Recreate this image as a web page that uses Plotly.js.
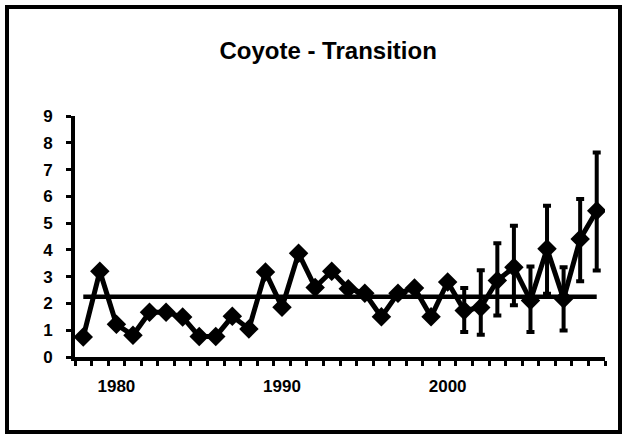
<!DOCTYPE html>
<html>
<head>
<meta charset="utf-8">
<script src="https://cdn.plot.ly/plotly-3.0.1.min.js"></script>
<style>
html,body{margin:0;padding:0;background:#fff;}
#wrap{position:relative;width:625px;height:438px;}
#chart{width:625px;height:438px;}
#frame{position:absolute;left:5px;top:5px;width:617px;height:429px;box-sizing:border-box;border:4px solid #000;pointer-events:none;}
</style>
</head>
<body>
<div id="wrap"><div id="chart"></div><div id="frame"></div></div>
<script>
// Data
var years = [1978,1979,1980,1981,1982,1983,1984,1985,1986,1987,1988,1989,1990,1991,1992,1993,1994,1995,1996,1997,1998,1999,2000,2001,2002,2003,2004,2005,2006,2007,2008,2009];
var values = [0.75,3.2,1.22,0.81,1.67,1.67,1.49,0.77,0.77,1.52,1.05,3.17,1.86,3.87,2.6,3.2,2.55,2.38,1.5,2.38,2.58,1.5,2.8,1.74,1.85,2.86,3.35,2.11,4.04,2.17,4.41,5.46];
// error bar ends (upper / lower), only for 2001-2009
var upperEnd = [null,null,null,null,null,null,null,null,null,null,null,null,null,null,null,null,null,null,null,null,null,null,null,2.58,3.24,4.25,4.9,3.38,5.65,3.35,5.9,7.64];
var lowerEnd = [null,null,null,null,null,null,null,null,null,null,null,null,null,null,null,null,null,null,null,null,null,null,null,0.93,0.83,1.55,1.93,0.93,2.36,0.99,2.83,3.23];
var meanLevel = 2.25;
var yTicks = [0,1,2,3,4,5,6,7,8,9];
var xLabelYears = [1980,1990,2000];
var titleText = "Coyote - Transition";

var errVisibleUp = values.map(function(v,i){return upperEnd[i]==null?NaN:upperEnd[i]-v;});
var errVisibleDn = values.map(function(v,i){return lowerEnd[i]==null?NaN:v-lowerEnd[i];});

var boundaries = [];
for (var i=0;i<=years.length;i++){ boundaries.push(years[0]-0.5+i); }

var font = {family:"Liberation Sans, Arial, sans-serif", color:"#000", size:17, weight:"bold"};

var traces = [
  {
    x:[years[0], years[years.length-1]], y:[meanLevel, meanLevel],
    mode:"lines", line:{color:"#000", width:4.5}, hoverinfo:"skip", showlegend:false
  },
  {
    x:years, y:values, mode:"lines+markers",
    line:{color:"#000", width:5},
    marker:{symbol:"diamond", size:15, color:"#000"},
    error_y:{type:"data", symmetric:false, array:errVisibleUp, arrayminus:errVisibleDn, color:"#000", thickness:4, width:4},
    showlegend:false
  },
  {
    x:xLabelYears, y:xLabelYears.map(function(){return null;}), xaxis:"x2", mode:"markers", showlegend:false, hoverinfo:"skip"
  }
];

var layout = {
  width:625, height:438,
  margin:{l:75, r:20, t:116, b:81},
  paper_bgcolor:"#fff", plot_bgcolor:"#fff",
  font:font,
  title:{text:titleText, font:{family:font.family, size:24, color:"#000", weight:"bold"}, xref:"container", yref:"container", x:0.525, y:0.885, xanchor:"center", yanchor:"middle"},
  xaxis:{
    range:[years[0]-0.5, years[years.length-1]+0.5],
    tickmode:"array", tickvals:boundaries, ticktext:boundaries.map(function(){return "";}),
    ticks:"outside", ticklen:5, tickwidth:3, tickcolor:"#000",
    showline:true, linecolor:"#000", linewidth:4, showgrid:false, zeroline:false, fixedrange:true
  },
  xaxis2:{
    overlaying:"x", side:"bottom", anchor:"y",
    range:[years[0]-0.5, years[years.length-1]+0.5],
    tickmode:"array", tickvals:xLabelYears, ticktext:xLabelYears.map(String),
    ticks:"", showline:false, showgrid:false, zeroline:false,
    ticklabelstandoff:17, tickfont:font
  },
  yaxis:{
    range:[0,9], tickmode:"array", tickvals:yTicks, ticktext:yTicks.map(String),
    ticks:"outside", ticklen:5, tickwidth:3, tickcolor:"#000",
    showline:true, linecolor:"#000", linewidth:4, showgrid:false, zeroline:false,
    tickfont:font, ticklabelstandoff:10
  }
};

Plotly.newPlot("chart", traces, layout, {displayModeBar:false, staticPlot:true});
</script>
</body>
</html>
